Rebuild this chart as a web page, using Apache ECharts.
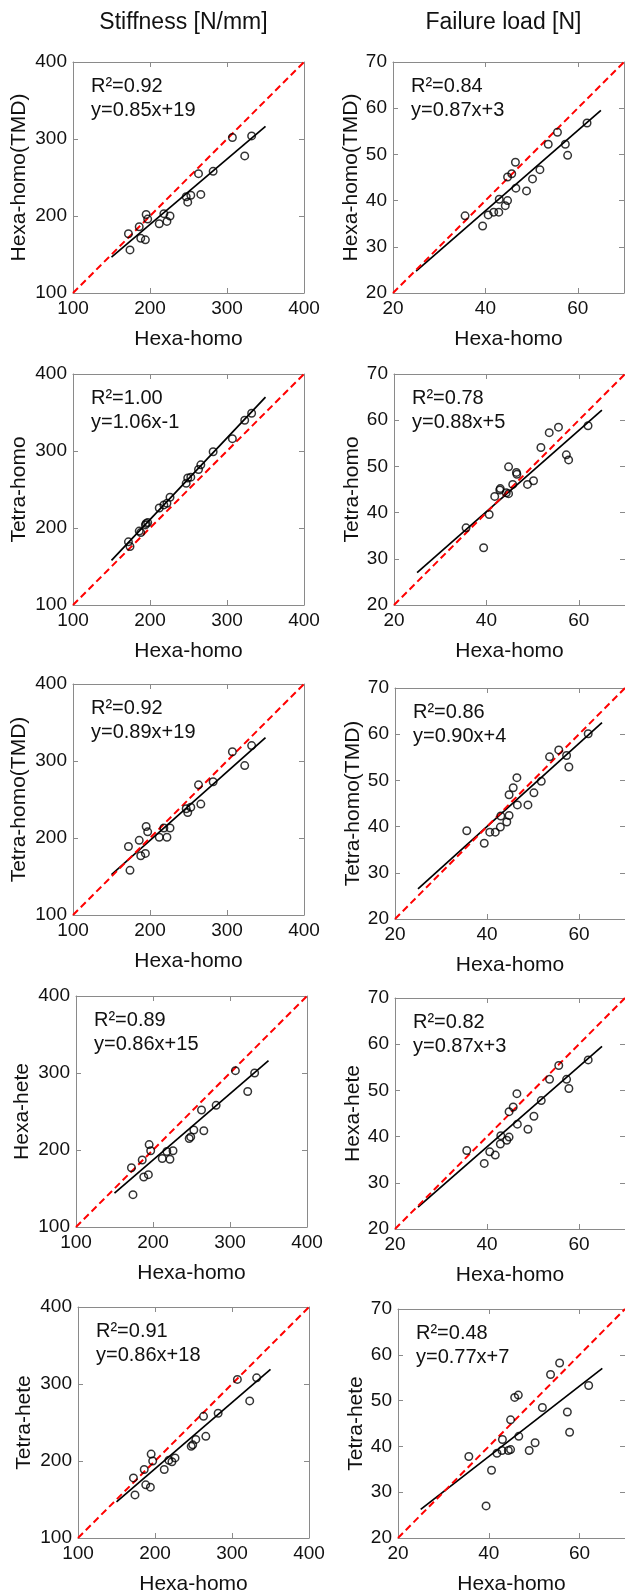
<!DOCTYPE html>
<html><head><meta charset="utf-8">
<script src="https://cdn.jsdelivr.net/npm/echarts@6/dist/echarts.min.js"></script>
<style>html,body{margin:0;padding:0;background:#fff}#c{width:625px;height:1596px}</style>
</head><body><div id="c"></div>
<script>
// ---------- data ----------
const columnTitles = ['Stiffness [N/mm]', 'Failure load [N]'];
const xAxisLabel = 'Hexa-homo';
const rowLabels = ['Hexa-homo(TMD)', 'Tetra-homo', 'Tetra-homo(TMD)', 'Hexa-hete', 'Tetra-hete'];

// Stiffness [N/mm]
const stiffTicks = [100, 200, 300, 400];
const stiffHexaHomo     = [172,174,186,188,194,195,197,212,218,222,226,247,249,253,263,266,282,307,323,332];
const stiffHexaHomoTMD  = [177,156,186,171,169,202,196,190,203,193,200,225,218,227,255,228,258,302,278,304];
const stiffTetraHomo    = [182,176,196,194,204,206,207,226,230,232,240,258,265,266,276,282,299,316,340,349];
const stiffTetraHomoTMD = [189,158,197,177,180,215,208,201,213,201,213,238,233,240,269,244,273,312,294,320];
const stiffHexaHete     = [177,142,187,165,168,207,199,189,198,188,199,215,217,226,252,225,258,303,276,300];
const stiffTetraHete    = [178,156,189,169,166,209,200,189,201,199,204,219,221,228,258,232,262,306,278,308];
const stiffR2        = ['0.92', '1.00', '0.92', '0.89', '0.91'];
const stiffSlope     = [0.85, 1.06, 0.89, 0.86, 0.86];
const stiffIntercept = [19, -1, 19, 15, 18];
const stiffEq        = ['y=0.85x+19', 'y=1.06x-1', 'y=0.89x+19', 'y=0.86x+15', 'y=0.86x+18'];
const stiffFitRange  = [150, 350];

// Failure load [N]
const failYTicks = [20, 30, 40, 50, 60, 70];
const failXTicks = [20, 40, 60];
const failHexaHomo     = [35.6,39.4,40.6,41.8,42.9,43.0,44.3,44.8,44.8,45.7,46.5,46.6,48.9,50.2,51.8,53.6,55.6,57.3,57.8,62.0];
const failHexaHomoTMD  = [36.7,34.5,36.9,37.5,37.5,40.3,38.9,40.0,45.1,45.8,48.3,42.7,42.1,44.7,46.7,52.2,54.8,52.2,49.8,56.8];
const failTetraHomo    = [36.7,32.4,39.6,43.5,44.9,45.2,44.3,44.1,49.9,46.1,48.7,48.3,46.1,46.9,54.1,57.3,58.5,52.5,51.4,58.8];
const failTetraHomoTMD = [39.1,36.4,38.8,38.8,39.9,42.3,41.0,42.4,46.9,48.4,50.6,44.7,44.7,47.3,49.8,55.1,56.6,55.4,52.9,60.1];
const failHexaHete     = [37.0,34.2,36.7,36.0,38.4,40.2,39.2,39.9,45.4,46.4,49.3,42.7,41.6,44.4,47.8,52.4,55.4,52.4,50.4,56.6];
const failTetraHete    = [37.8,27.0,34.8,38.5,39.1,41.5,39.1,39.3,45.8,50.7,51.2,42.2,39.1,40.8,48.5,55.7,58.2,47.5,43.1,53.3];
const failR2        = ['0.84', '0.78', '0.86', '0.82', '0.48'];
const failSlope     = [0.87, 0.88, 0.90, 0.87, 0.77];
const failIntercept = [3, 5, 4, 3, 7];
const failEq        = ['y=0.87x+3', 'y=0.88x+5', 'y=0.90x+4', 'y=0.87x+3', 'y=0.77x+7'];
const failFitRange  = [25, 65];

// ---------- layout / style ----------
const FONT = '"Liberation Sans", Arial, Helvetica, sans-serif';
const TXT = '#111';
const BOX = '#8a8a8a';
const SIZE = 231;
const leftColX  = [73, 73, 73, 76, 78];
const rightColX = [393, 394, 395, 395, 398];
const leftTops  = [62, 374, 684, 996, 1307];
const rightTops = [62, 374, 688, 998, 1309];

const stiffY = [stiffHexaHomoTMD, stiffTetraHomo, stiffTetraHomoTMD, stiffHexaHete, stiffTetraHete];
const failY  = [failHexaHomoTMD, failTetraHomo, failTetraHomoTMD, failHexaHete, failTetraHete];

const panels = [];
for (let r = 0; r < 5; r++) {
  panels.push({ left: leftColX[r], top: leftTops[r], min: stiffTicks[0], max: stiffTicks[stiffTicks.length-1],
    yInt: stiffTicks[1]-stiffTicks[0], xInt: stiffTicks[1]-stiffTicks[0],
    xs: stiffHexaHomo, ys: stiffY[r], slope: stiffSlope[r], icpt: stiffIntercept[r], range: stiffFitRange,
    r2: stiffR2[r], eq: stiffEq[r], yName: rowLabels[r], nameGap: 43, showMax: true });
  panels.push({ left: rightColX[r], top: rightTops[r], min: failYTicks[0], max: failYTicks[failYTicks.length-1],
    yInt: failYTicks[1]-failYTicks[0], xInt: failXTicks[1]-failXTicks[0],
    xs: failHexaHomo, ys: failY[r], slope: failSlope[r], icpt: failIntercept[r], range: failFitRange,
    r2: failR2[r], eq: failEq[r], yName: rowLabels[r], nameGap: 31, showMax: false });
}

const grid = [], xAxis = [], yAxis = [], series = [], graphic = [];
const labelStyle = { color: TXT, fontSize: 19, fontFamily: FONT };
panels.forEach((p, g) => {
  grid.push({ left: p.left, top: p.top, width: SIZE, height: SIZE, containLabel: false });
  const common = { gridIndex: g, type: 'value', min: p.min, max: p.max, splitLine: { show: false },
    axisLine: { show: true, onZero: false, lineStyle: { color: BOX, width: 1 } },
    axisTick: { show: true, inside: true, length: 5, lineStyle: { color: BOX, width: 1 } } };
  xAxis.push(Object.assign({}, common, { position: 'bottom', interval: p.xInt,
    axisLabel: Object.assign({ margin: 6, showMaxLabel: p.showMax, showMinLabel: true }, labelStyle),
    name: xAxisLabel, nameLocation: 'middle', nameGap: 36,
    nameTextStyle: { color: TXT, fontSize: 21, fontFamily: FONT } }));
  xAxis.push(Object.assign({}, common, { position: 'top', interval: p.xInt, axisLabel: { show: false } }));
  yAxis.push(Object.assign({}, common, { position: 'left', interval: p.yInt,
    axisLabel: Object.assign({ margin: 6 }, labelStyle),
    name: p.yName, nameLocation: 'middle', nameRotate: 90, nameGap: p.nameGap,
    nameTextStyle: { color: TXT, fontSize: 21, fontFamily: FONT } }));
  yAxis.push(Object.assign({}, common, { position: 'right', interval: p.yInt, axisLabel: { show: false } }));

  const xi = 2 * g, yi = 2 * g;
  series.push({ type: 'line', xAxisIndex: xi, yAxisIndex: yi, symbol: 'none', silent: true, z: 2,
    data: [[p.range[0], p.slope * p.range[0] + p.icpt], [p.range[1], p.slope * p.range[1] + p.icpt]],
    lineStyle: { color: '#000', width: 1.7 } });
  series.push({ type: 'line', xAxisIndex: xi, yAxisIndex: yi, symbol: 'none', silent: true, z: 3,
    data: [[p.min, p.min], [p.max, p.max]],
    lineStyle: { color: '#ff0000', width: 2, type: [7, 4] } });
  series.push({ type: 'scatter', xAxisIndex: xi, yAxisIndex: yi, silent: true, z: 4,
    symbol: 'circle', symbolSize: 7.5,
    itemStyle: { color: 'rgba(0,0,0,0)', borderColor: '#000', borderWidth: 1.5 },
    data: p.xs.map((x, i) => [x, p.ys[i]]) });

  graphic.push({ type: 'text', x: p.left + 18, y: p.top + 24, silent: true,
    style: { text: 'R\u00b2=' + p.r2, fill: TXT, fontSize: 20, fontFamily: FONT, verticalAlign: 'middle' } });
  graphic.push({ type: 'text', x: p.left + 18, y: p.top + 48, silent: true,
    style: { text: p.eq, fill: TXT, fontSize: 20, fontFamily: FONT, verticalAlign: 'middle' } });
});
graphic.push({ type: 'text', x: leftColX[0] + SIZE / 2 - 5, y: 23, silent: true,
  style: { text: columnTitles[0], fill: TXT, fontSize: 23, fontFamily: FONT, align: 'center', verticalAlign: 'middle' } });
graphic.push({ type: 'text', x: rightColX[0] + SIZE / 2 - 5, y: 23, silent: true,
  style: { text: columnTitles[1], fill: TXT, fontSize: 23, fontFamily: FONT, align: 'center', verticalAlign: 'middle' } });

const chart = echarts.init(document.getElementById('c'), null, { renderer: 'canvas' });
chart.setOption({ animation: false, backgroundColor: '#fff', grid, xAxis, yAxis, series, graphic });
</script></body></html>
